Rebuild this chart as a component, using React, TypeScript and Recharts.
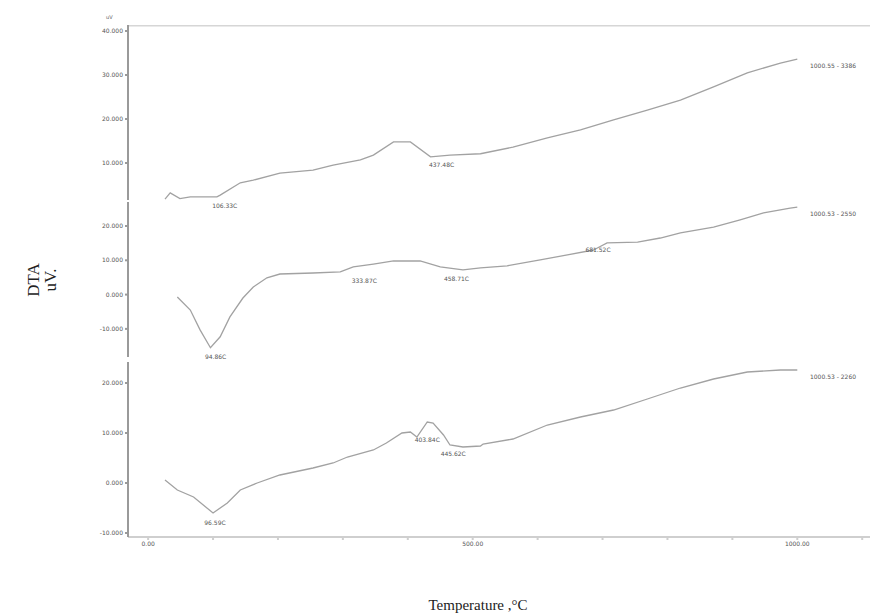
import React from "react";
import { LineChart, Line, XAxis, YAxis, ReferenceLine, ReferenceDot } from "recharts";

// temperature (°C) / DTA (uV) readings, three runs stacked
const topTemp = [26, 34, 49, 65, 106, 111, 142, 162, 203, 254, 285, 327, 347, 378, 404, 435, 465, 512, 562, 615, 666, 717, 769, 820, 871, 923, 974, 1000];
const topDta = [1.8, 3.2, 1.9, 2.3, 2.3, 2.7, 5.5, 6.1, 7.7, 8.4, 9.5, 10.7, 11.8, 14.8, 14.8, 11.4, 11.8, 12.1, 13.6, 15.7, 17.5, 19.8, 22.0, 24.3, 27.3, 30.5, 32.7, 33.6];

const midTemp = [45, 65, 80, 96, 111, 126, 146, 162, 183, 203, 254, 296, 316, 347, 378, 419, 450, 485, 512, 553, 604, 646, 686, 692, 707, 754, 789, 820, 871, 912, 948, 989, 1000];
const midDta = [-0.7, -4.5, -10.3, -15.5, -12.3, -6.5, -1.0, 2.2, 4.9, 6.0, 6.3, 6.6, 8.1, 8.9, 9.8, 9.8, 8.1, 7.2, 7.8, 8.4, 10.1, 11.6, 13.0, 13.6, 15.1, 15.3, 16.5, 18.0, 19.7, 21.8, 23.8, 25.2, 25.5];

const botTemp = [26, 45, 70, 100, 122, 142, 168, 203, 254, 285, 307, 347, 367, 391, 404, 414, 430, 439, 455, 465, 485, 512, 516, 562, 615, 666, 717, 769, 820, 871, 923, 974, 1000];
const botDta = [0.6, -1.4, -2.8, -6.0, -4.0, -1.4, 0.0, 1.6, 3.0, 4.0, 5.2, 6.6, 8.0, 10.0, 10.2, 9.2, 12.2, 12.0, 9.6, 7.6, 7.2, 7.4, 7.8, 8.8, 11.6, 13.2, 14.6, 16.8, 19.0, 20.8, 22.2, 22.6, 22.6];

const topTicks = [10, 20, 30, 40];
const midTicks = [-10, 0, 10, 20];
const botTicks = [-10, 0, 10, 20];
const tempTicks = [0, 100, 200, 300, 400, 500, 600, 700, 800, 900, 1000, 1100];
const labelledTemps = [0, 500, 1000];

// peak annotations: [temp, dta, text]
const topPeaks: [number, number, string][] = [
  [118, 1.8, "106.33C"],
  [452, 11.2, "437.48C"],
  [1055, 33.6, "1000.55 - 3386"],
];
const midPeaks: [number, number, string][] = [
  [104, -16.2, "94.86C"],
  [333, 6.0, "333.87C"],
  [475, 6.6, "458.71C"],
  [693, 15.2, "681.52C"],
  [1055, 25.5, "1000.53 - 2550"],
];
const botPeaks: [number, number, string][] = [
  [103, -6.6, "96.59C"],
  [430, 10.0, "403.84C"],
  [470, 7.3, "445.62C"],
  [1055, 22.6, "1000.53 - 2260"],
];

const build = (t: number[], v: number[]) => t.map((x, i) => ({ t: x, v: v[i] }));
const topData = build(topTemp, topDta);
const midData = build(midTemp, midDta);
const botData = build(botTemp, botDta);

const X_DOMAIN: [number, number] = [-31, 1112];
const W = 870;
const tickStyle = { fill: "#555", fontSize: 6, fontFamily: "DejaVu Sans" };
const fmt = (v: number) => v.toFixed(3);

function Panel({
  data, domain, ticks, peaks, top, height, extra = 0, showX, topLine,
}: {
  data: { t: number; v: number }[];
  domain: [number, number];
  ticks: number[];
  peaks: [number, number, string][];
  top: number;
  height: number;
  extra?: number;
  showX?: boolean;
  topLine?: boolean;
}) {
  return (
    <div style={{ position: "absolute", left: 0, top }}>
      <LineChart width={W} height={height + extra} data={data} margin={{ top: 0, right: 0, left: 0, bottom: extra }}>
        <XAxis
          type="number"
          dataKey="t"
          domain={X_DOMAIN}
          allowDataOverflow
          ticks={tempTicks}
          hide={!showX}
          height={20}
          stroke="#cfcfcf"
          strokeWidth={2}
          tickSize={3}
          tick={tickStyle}
          tickFormatter={(v: number) => (labelledTemps.includes(v) ? v.toFixed(2) : "")}
        />
        <YAxis
          type="number"
          domain={domain}
          allowDataOverflow
          ticks={ticks}
          width={128}
          stroke="#9a9a9a"
          strokeWidth={2}
          tickSize={3}
          tick={tickStyle}
          tickFormatter={fmt}
        />
        {topLine && <ReferenceLine y={domain[1]} stroke="#d6d6d6" strokeWidth={3} ifOverflow="visible" />}
        <Line
          type="linear"
          dataKey="v"
          stroke="#a2a2a2"
          strokeWidth={1.3}
          dot={false}
          isAnimationActive={false}
        />
        {peaks.map(([t, v, text]) => (
          <ReferenceDot
            key={text}
            x={t}
            y={v}
            r={0}
            ifOverflow="visible"
            label={{ value: text, position: "bottom", fill: "#555", fontSize: 6, fontFamily: "DejaVu Sans" }}
          />
        ))}
      </LineChart>
    </div>
  );
}

export default function App() {
  return (
    <div style={{ position: "absolute", left: 0, top: 0, width: W, height: 616, background: "#fff", overflow: "hidden" }}>
      <div style={{ position: "absolute", left: 106, top: 14, fontSize: 5, color: "#555", fontFamily: "DejaVu Sans" }}>uV</div>
      <Panel data={topData} domain={[1.59, 41.36]} ticks={topTicks} peaks={topPeaks} top={25} height={175} extra={14} topLine />
      <Panel data={midData} domain={[-18.2, 27.0]} ticks={midTicks} peaks={midPeaks} top={202} height={155} extra={14} />
      <Panel data={botData} domain={[-10.8, 24.2]} ticks={botTicks} peaks={botPeaks} top={362} height={195} showX />
      <div
        style={{
          position: "absolute",
          left: 42,
          top: 280,
          transform: "translate(-50%, -50%) rotate(-90deg)",
          fontFamily: "'Liberation Serif', serif",
          fontSize: 17,
          lineHeight: "17px",
          textAlign: "center",
          color: "#222",
        }}
      >
        DTA
        <br />
        uV.
      </div>
      <div
        style={{
          position: "absolute",
          left: 478,
          top: 605,
          transform: "translate(-50%, -50%)",
          fontFamily: "'Liberation Serif', serif",
          fontSize: 15,
          color: "#222",
          whiteSpace: "nowrap",
        }}
      >
        Temperature ,°C
      </div>
    </div>
  );
}
